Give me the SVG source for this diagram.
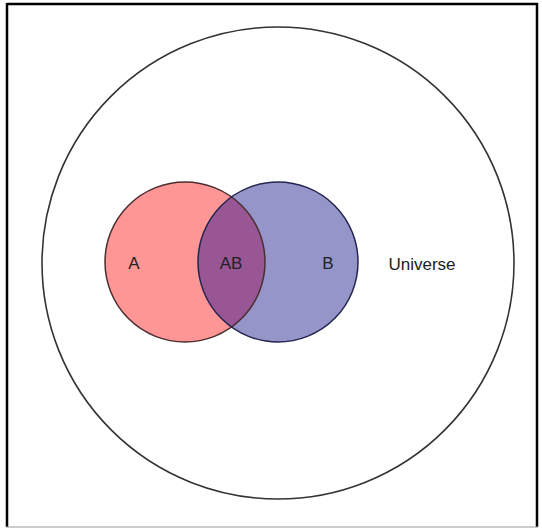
<svg xmlns="http://www.w3.org/2000/svg" width="542" height="528" viewBox="0 0 542 528">
<style>
.lbl{font-family:"Liberation Sans",Arial,sans-serif;font-size:17px;text-anchor:middle;fill:#222}
.set{stroke-width:1.5}
</style>
<rect width="542" height="528" fill="#ffffff"/>
<g id="frame">
<line x1="7" y1="4" x2="538" y2="4" stroke="#000" stroke-width="2.5"/>
<line x1="7" y1="3" x2="7" y2="527" stroke="#000" stroke-width="2.5"/>
<line x1="537" y1="3" x2="537" y2="527" stroke="#000" stroke-width="2.5"/>
<line x1="6" y1="527" x2="538" y2="527" stroke="#999" stroke-width="1.2"/>
</g>
<g id="universe">
<circle cx="278" cy="263" r="236" fill="none" stroke="#333" stroke-width="1.6"/>
<text class="lbl" x="422" y="270">Universe</text>
</g>
<g id="setA">
<circle cx="185" cy="262" r="80" fill="#ff9696"/>
</g>
<g id="setB">
<circle cx="278" cy="262" r="80" fill="#9595ca"/>
</g>
<g id="setAB">
<path d="M231.5,196.9 A80,80 0 0,1 231.5,327.1 A80,80 0 0,1 231.5,196.9 Z" fill="#985794"/>
</g>
<g id="outlines">
<circle cx="185" cy="262" r="80" fill="none" stroke="#4a2e30" class="set"/>
<circle cx="278" cy="262" r="80" fill="none" stroke="#252550" class="set"/>
</g>
<g id="labels">
<text class="lbl" x="134" y="269">A</text>
<text class="lbl" x="231" y="269">AB</text>
<text class="lbl" x="328" y="269">B</text>
</g>
</svg>
